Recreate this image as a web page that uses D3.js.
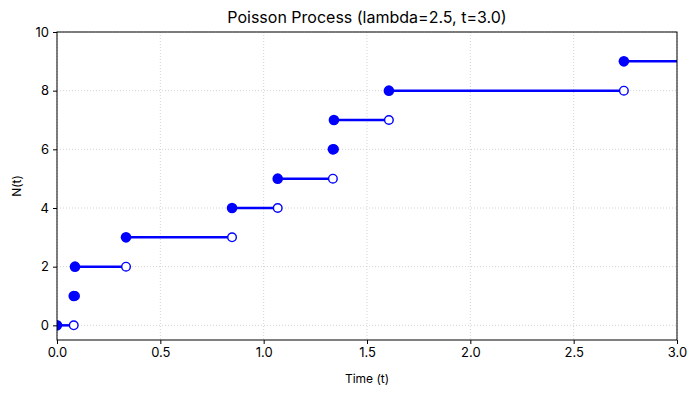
<!DOCTYPE html>
<html>
<head>
<meta charset="utf-8">
<script src="https://cdn.jsdelivr.net/npm/d3@7"></script>
<style>
  body { margin: 0; background: #fff; }
  svg text { font-family: Inter, "Open Sans", sans-serif; fill: #000; }
</style>
</head>
<body>
<svg id="chart" width="698" height="395"></svg>
<script>
// start time of each state N = 0..9
var counts = [0, 1, 2, 3, 4, 5, 6, 7, 8, 9];
var startTimes = [0, 0.081, 0.087, 0.334, 0.847, 1.068, 1.335, 1.34, 1.606, 2.743];
var tEnd = 3.0;
var xTicks = [0, 0.5, 1.0, 1.5, 2.0, 2.5, 3.0];
var yTicks = [0, 2, 4, 6, 8, 10];

var svg = d3.select("#chart");
var mLeft = 57, mRight = 677, mTop = 32, mBottom = 340;

var x = d3.scaleLinear().domain([0, 3]).range([mLeft, mRight]);
var y = d3.scaleLinear().domain([-0.5, 10]).range([mBottom, mTop]);

// segments: from start of state to start of next (or tEnd)
var segs = counts.map(function(n, i) {
  return { n: n, t0: startTimes[i], t1: i < counts.length - 1 ? startTimes[i + 1] : tEnd, last: i === counts.length - 1 };
});

svg.append("defs").append("clipPath").attr("id", "clip")
  .append("rect").attr("x", mLeft).attr("y", mTop).attr("width", mRight - mLeft).attr("height", mBottom - mTop);

// grid
var grid = svg.append("g");
grid.selectAll(".gx").data(xTicks).enter().append("line")
  .attr("x1", d => x(d)).attr("x2", d => x(d)).attr("y1", mTop).attr("y2", mBottom)
  .attr("stroke", "#c8c8c8").attr("stroke-width", 0.8).attr("stroke-dasharray", "1,2");
grid.selectAll(".gy").data(yTicks).enter().append("line")
  .attr("x1", mLeft).attr("x2", mRight).attr("y1", d => y(d)).attr("y2", d => y(d))
  .attr("stroke", "#c8c8c8").attr("stroke-width", 0.8).attr("stroke-dasharray", "1,2");

var plot = svg.append("g").attr("clip-path", "url(#clip)");

plot.selectAll(".seg").data(segs).enter().append("line")
  .attr("x1", d => x(d.t0)).attr("x2", d => x(d.t1))
  .attr("y1", d => y(d.n)).attr("y2", d => y(d.n))
  .attr("stroke", "#0000ff").attr("stroke-width", 2.5);

// open ends first, filled starts on top
plot.selectAll(".open").data(segs.filter(d => !d.last)).enter().append("circle")
  .attr("cx", d => x(d.t1)).attr("cy", d => y(d.n)).attr("r", 4.3)
  .attr("fill", "#fff").attr("stroke", "#0000ff").attr("stroke-width", 1.4);

plot.selectAll(".filled").data(segs).enter().append("circle")
  .attr("cx", d => x(d.t0)).attr("cy", d => y(d.n)).attr("r", 5.3)
  .attr("fill", "#0000ff");

// axes
var xAxis = svg.append("g").attr("transform", "translate(0," + mBottom + ")")
  .call(d3.axisBottom(x).tickValues(xTicks).tickFormat(d3.format(".1f")).tickSize(4).tickPadding(4));
var yAxis = svg.append("g").attr("transform", "translate(" + mLeft + ",0)")
  .call(d3.axisLeft(y).tickValues(yTicks).tickFormat(d3.format("d")).tickSize(4).tickPadding(4));
[xAxis, yAxis].forEach(function(a) {
  a.select(".domain").remove();
  a.selectAll("text").style("font-size", "13px");
  a.selectAll("line").attr("stroke", "#000");
});

svg.append("rect").attr("x", mLeft).attr("y", mTop).attr("width", mRight - mLeft).attr("height", mBottom - mTop)
  .attr("fill", "none").attr("stroke", "#000").attr("stroke-width", 1);

svg.append("text").attr("x", (mLeft + mRight) / 2).attr("y", 23).attr("text-anchor", "middle")
  .style("font-size", "16px").text("Poisson Process (lambda=2.5, t=3.0)");
svg.append("text").attr("x", (mLeft + mRight) / 2).attr("y", 383).attr("text-anchor", "middle")
  .style("font-size", "12px").text("Time (t)");
svg.append("text").attr("transform", "translate(21," + ((mTop + mBottom) / 2) + ") rotate(-90)")
  .attr("text-anchor", "middle").style("font-size", "12px").text("N(t)");
</script>
</body>
</html>
